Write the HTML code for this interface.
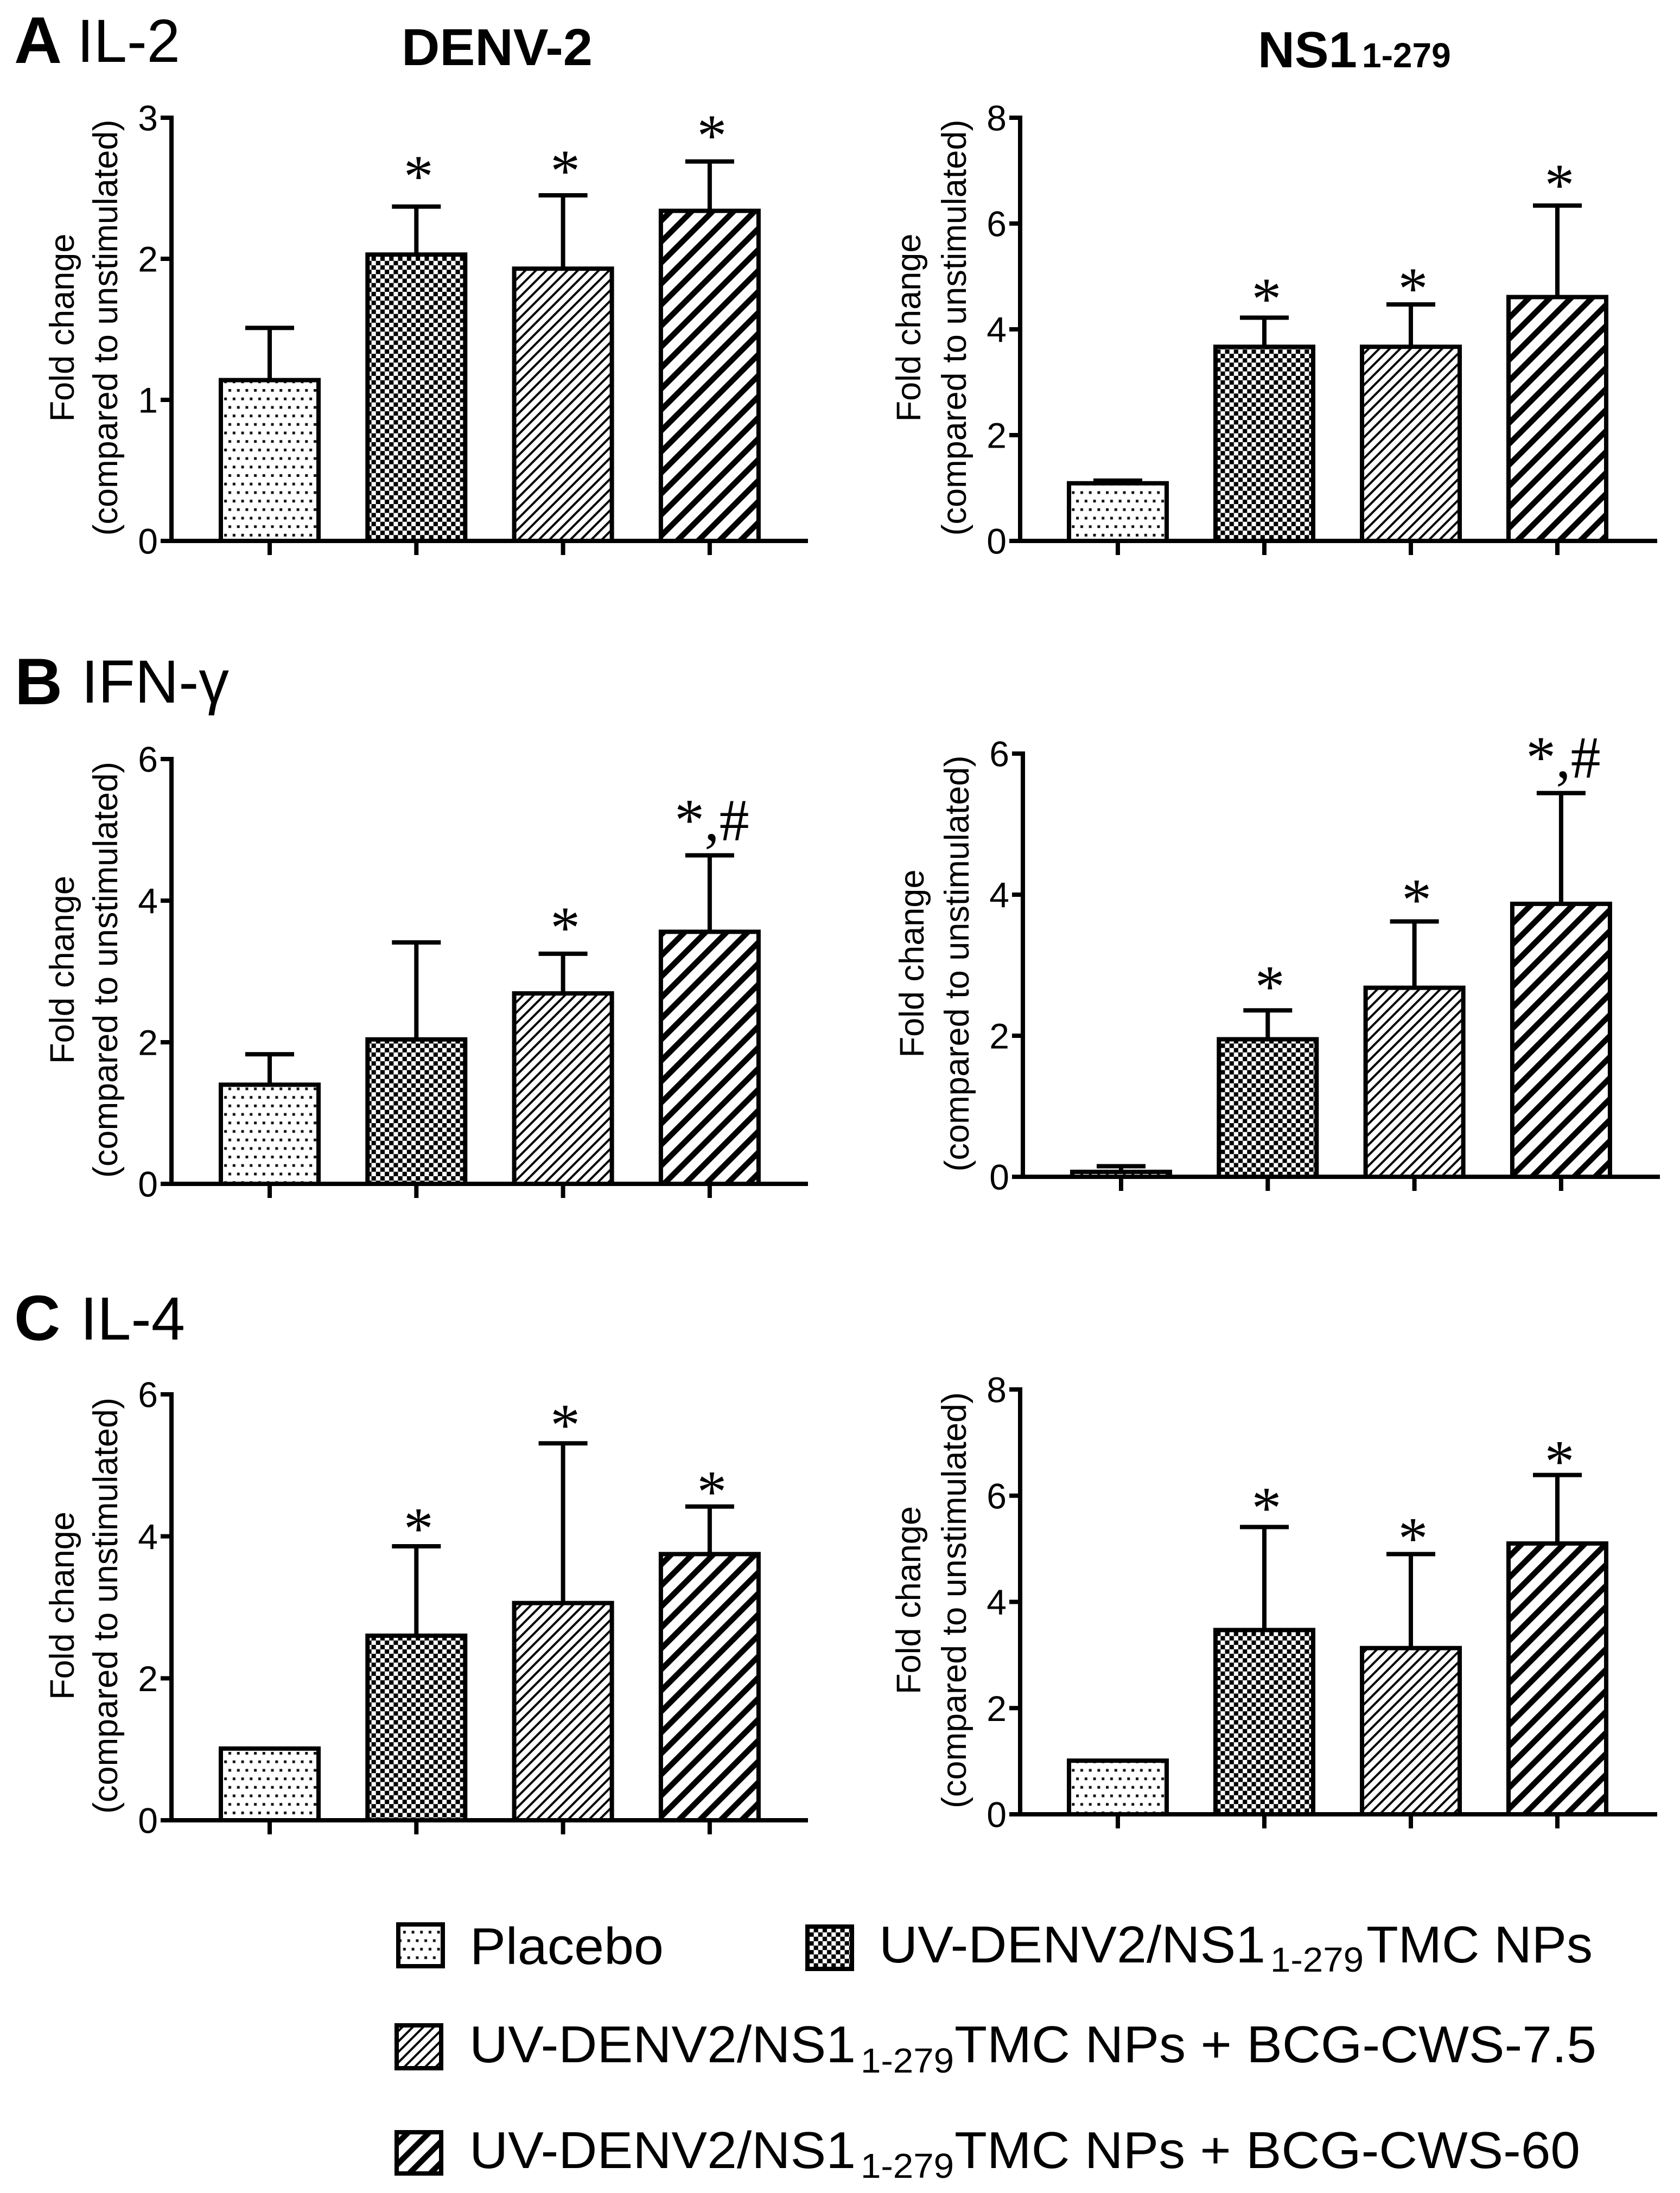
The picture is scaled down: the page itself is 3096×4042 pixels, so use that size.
<!DOCTYPE html>
<html lang="en">
<head>
<meta charset="utf-8">
<title>Fold change in cytokine expression</title>
<style>
html,body{margin:0;padding:0;background:#fff;}
svg{display:block;}
text{font-family:"Liberation Sans",Arial,sans-serif;fill:#000;}
.serif{font-family:"Liberation Serif","Times New Roman",serif;}
</style>
</head>
<body>
<svg id="figure" xmlns="http://www.w3.org/2000/svg" width="3096" height="4042" viewBox="0 0 3096 4042">
  <defs>
    <pattern id="fill-dots" patternUnits="userSpaceOnUse" x="416" y="712" width="15.7" height="31.4">
      <rect width="15.7" height="31.4" fill="#fff"/>
      <rect x="5" y="5" width="5" height="5" fill="#111"/>
      <rect x="12.85" y="20.7" width="5" height="5" fill="#111"/>
      <rect x="-2.85" y="20.7" width="5" height="5" fill="#111"/>
    </pattern>
    <pattern id="fill-checker" patternUnits="userSpaceOnUse" x="0" y="0" width="16.3" height="16.3">
      <rect width="16.3" height="16.3" fill="#fff"/>
      <rect x="0" y="0" width="8.15" height="8.15" fill="#000"/>
      <rect x="8.15" y="8.15" width="8.15" height="8.15" fill="#000"/>
    </pattern>
    <pattern id="fill-hatch-thin" patternUnits="userSpaceOnUse" x="0" y="0" width="19.3" height="19.3">
      <rect width="19.3" height="19.3" fill="#fff"/>
      <path d="M-5,5 L5,-5 M-5,24.3 L24.3,-5 M14.3,24.3 L24.3,14.3" stroke="#000" stroke-width="4" fill="none"/>
    </pattern>
    <pattern id="fill-hatch-wide" patternUnits="userSpaceOnUse" x="0" y="0" width="38.7" height="38.7">
      <rect width="38.7" height="38.7" fill="#fff"/>
      <path d="M-10,10 L10,-10 M-10,48.7 L48.7,-10 M28.7,48.7 L48.7,28.7" stroke="#000" stroke-width="10.5" fill="none"/>
    </pattern>
  </defs>
  <rect width="3096" height="4042" fill="#fff"/>

  <g>
    <text x="26" y="116" font-size="122" font-weight="700">A</text>
    <text x="142" y="114" font-size="112" textLength="190" lengthAdjust="spacingAndGlyphs">IL-2</text>
    <text x="740" y="120" font-size="96" font-weight="700" textLength="352" lengthAdjust="spacingAndGlyphs">DENV-2</text>
    <text x="2318" y="124" font-size="94" font-weight="700">NS1</text>
    <text x="2510" y="124" font-size="64" font-weight="700">1-279</text>
    <text x="27" y="1298" font-size="122" font-weight="700">B</text>
    <text x="150" y="1295" font-size="112" textLength="272" lengthAdjust="spacingAndGlyphs">IFN-γ</text>
    <text x="26" y="2470" font-size="118" font-weight="700">C</text>
    <text x="148" y="2469" font-size="112" textLength="193" lengthAdjust="spacingAndGlyphs">IL-4</text>
  </g>

  <g id="charts"></g>

  <g>
    <g>
      <rect x="734" y="3547" width="82" height="77" fill="url(#fill-dots)" stroke="#000" stroke-width="8"/>
      <text x="866" y="3620" font-size="96" textLength="357" lengthAdjust="spacingAndGlyphs">Placebo</text>
    </g>
    <g>
      <rect x="1488" y="3551" width="82" height="78" fill="url(#fill-checker)" stroke="#000" stroke-width="8"/>
      <text x="1620" y="3617" font-size="96" textLength="712" lengthAdjust="spacingAndGlyphs">UV-DENV2/NS1</text>
      <text x="2341" y="3634" font-size="64" textLength="172" lengthAdjust="spacingAndGlyphs">1-279</text>
      <text x="2518" y="3617" font-size="96" textLength="417" lengthAdjust="spacingAndGlyphs">TMC NPs</text>
    </g>
    <g>
      <rect x="731" y="3733" width="82" height="79" fill="url(#fill-hatch-thin)" stroke="#000" stroke-width="8"/>
      <text x="865" y="3801" font-size="96" textLength="712" lengthAdjust="spacingAndGlyphs">UV-DENV2/NS1</text>
      <text x="1586" y="3820" font-size="64" textLength="172" lengthAdjust="spacingAndGlyphs">1-279</text>
      <text x="1759" y="3801" font-size="96" textLength="1183" lengthAdjust="spacingAndGlyphs">TMC NPs + BCG-CWS-7.5</text>
    </g>
    <g>
      <rect x="731" y="3930" width="82" height="76" fill="url(#fill-hatch-wide)" stroke="#000" stroke-width="8"/>
      <text x="865" y="3996" font-size="96" textLength="712" lengthAdjust="spacingAndGlyphs">UV-DENV2/NS1</text>
      <text x="1586" y="4014" font-size="64" textLength="172" lengthAdjust="spacingAndGlyphs">1-279</text>
      <text x="1759" y="3996" font-size="96" textLength="1153" lengthAdjust="spacingAndGlyphs">TMC NPs + BCG-CWS-60</text>
    </g>
  </g>
</svg>

<script>
// Categories (shared by every panel)
const categories = ['placebo', 'tmc-nps', 'bcg-cws-7-5', 'bcg-cws-60'];

// IL-2, DENV-2
const il2DenvMeans = [1.14, 2.03, 1.93, 2.34];
const il2DenvErrorTops = [1.51, 2.37, 2.45, 2.69];
const il2DenvMarks = ['', '*', '*', '*'];
const il2DenvMarkLevels = [0, 2.63, 2.67, 2.92];
const il2DenvTicks = [0, 1, 2, 3];

// IL-2, NS1
const il2NsMeans = [1.09, 3.67, 3.67, 4.61];
const il2NsErrorTops = [1.14, 4.22, 4.47, 6.34];
const il2NsMarks = ['', '*', '*', '*'];
const il2NsMarkLevels = [0, 4.70, 4.89, 6.85];
const il2NsTicks = [0, 2, 4, 6, 8];

// IFN-gamma, DENV-2
const ifnDenvMeans = [1.40, 2.04, 2.69, 3.56];
const ifnDenvErrorTops = [1.83, 3.41, 3.25, 4.64];
const ifnDenvMarks = ['', '', '*', '*,#'];
const ifnDenvMarkLevels = [0, 0, 3.71, 5.23];
const ifnDenvTicks = [0, 2, 4, 6];

// IFN-gamma, NS1
const ifnNsMeans = [0.07, 1.95, 2.68, 3.87];
const ifnNsErrorTops = [0.15, 2.36, 3.62, 5.44];
const ifnNsMarks = ['', '*', '*', '*,#'];
const ifnNsMarkLevels = [0, 2.79, 4.02, 6.04];
const ifnNsTicks = [0, 2, 4, 6];

// IL-4, DENV-2
const il4DenvMeans = [1.01, 2.60, 3.06, 3.75];
const il4DenvErrorTops = [1.01, 3.86, 5.31, 4.42];
const il4DenvMarks = ['', '*', '*', '*'];
const il4DenvMarkLevels = [0, 4.20, 5.66, 4.72];
const il4DenvTicks = [0, 2, 4, 6];

// IL-4, NS1
const il4NsMeans = [1.01, 3.47, 3.13, 5.10];
const il4NsErrorTops = [1.01, 5.41, 4.90, 6.39];
const il4NsMarks = ['', '*', '*', '*'];
const il4NsMarkLevels = [0, 5.89, 5.32, 6.77];
const il4NsTicks = [0, 2, 4, 6, 8];

const SVG_NS = 'http://www.w3.org/2000/svg';
const barFills = ['url(#fill-dots)', 'url(#fill-checker)', 'url(#fill-hatch-thin)', 'url(#fill-hatch-wide)'];

function shape(parent, tag, attrs) {
  const el = document.createElementNS(SVG_NS, tag);
  Object.keys(attrs).forEach(function (k) { el.setAttribute(k, attrs[k]); });
  parent.appendChild(el);
  return el;
}

function drawPanel(name, frame, means, errorTops, marks, markLevels, ticks) {
  const root = document.getElementById('charts');
  const g = shape(root, 'g', {});
  
  

  const maxTick = ticks[ticks.length - 1];
  const yOf = function (v) { return frame.base - (v / maxTick) * (frame.base - frame.top); };
  const xOf = function (i) { return frame.firstX + i * frame.stepX; };

  // Error bars (behind the bars)
  means.forEach(function (mean, i) {
    if (errorTops[i] <= mean) { return; }
    const stem = shape(g, 'line', { x1: xOf(i), x2: xOf(i), y1: yOf(errorTops[i]), y2: yOf(mean), stroke: '#000', 'stroke-width': 8 });
    
    
    const cap = shape(g, 'line', { x1: xOf(i) - 45, x2: xOf(i) + 45, y1: yOf(errorTops[i]), y2: yOf(errorTops[i]), stroke: '#000', 'stroke-width': 8 });
    
    
  });

  // Bars
  means.forEach(function (mean, i) {
    const bar = shape(g, 'rect', { x: xOf(i) - 90, y: yOf(mean), width: 180, height: frame.base - yOf(mean), fill: barFills[i], stroke: '#000', 'stroke-width': 8 });
    
    
  });

  // Significance marks
  marks.forEach(function (mark, i) {
    if (!mark) { return; }
    const label = shape(g, 'text', { x: xOf(i) + 4, y: yOf(markLevels[i]) + 49, 'font-size': 110, 'text-anchor': 'middle', class: 'serif' });
    label.textContent = mark;
    
    
  });

  // Axes
  const yAxis = shape(g, 'line', { x1: frame.axisX, x2: frame.axisX, y1: frame.top - 4, y2: frame.base + 4, stroke: '#000', 'stroke-width': 8 });
  
  
  const xAxis = shape(g, 'line', { x1: frame.axisX - 20, x2: frame.endX, y1: frame.base, y2: frame.base, stroke: '#000', 'stroke-width': 8 });
  
  

  ticks.forEach(function (t) {
    const tick = shape(g, 'line', { x1: frame.axisX - 20, x2: frame.axisX, y1: yOf(t), y2: yOf(t), stroke: '#000', 'stroke-width': 8 });
    
    
    const tickLabel = shape(g, 'text', { x: frame.axisX - 25, y: yOf(t) + 23.6, 'font-size': 66, 'text-anchor': 'end' });
    tickLabel.textContent = String(t);
    
    
  });

  categories.forEach(function (c, i) {
    const tick = shape(g, 'line', { x1: xOf(i), x2: xOf(i), y1: frame.base, y2: frame.base + 26, stroke: '#000', 'stroke-width': 8 });
    
    
  });

  // Y-axis title, two rotated lines
  const midY = (frame.top + frame.base) / 2 - 3;
  const titleTop = shape(g, 'text', { transform: 'translate(' + (frame.axisX - frame.titleGap) + ' ' + midY + ') rotate(-90)', 'font-size': 63, 'text-anchor': 'middle' });
  titleTop.textContent = 'Fold change';
  
  
  const titleBottom = shape(g, 'text', { transform: 'translate(' + (frame.axisX - 100) + ' ' + midY + ') rotate(-90)', 'font-size': 63, 'text-anchor': 'middle' });
  titleBottom.textContent = '(compared to unstimulated)';
  
  
}

drawPanel('il-2-denv-2', { axisX: 316, endX: 1489, top: 217, base: 997, firstX: 497, stepX: 270.3, titleGap: 180 },
  il2DenvMeans, il2DenvErrorTops, il2DenvMarks, il2DenvMarkLevels, il2DenvTicks);
drawPanel('il-2-ns1', { axisX: 1880, endX: 3054, top: 217, base: 997, firstX: 2060, stepX: 270, titleGap: 184 },
  il2NsMeans, il2NsErrorTops, il2NsMarks, il2NsMarkLevels, il2NsTicks);
drawPanel('ifn-gamma-denv-2', { axisX: 316, endX: 1489, top: 1399, base: 2182, firstX: 497, stepX: 270.3, titleGap: 180 },
  ifnDenvMeans, ifnDenvErrorTops, ifnDenvMarks, ifnDenvMarkLevels, ifnDenvTicks);
drawPanel('ifn-gamma-ns1', { axisX: 1885, endX: 3059, top: 1389, base: 2169, firstX: 2066, stepX: 270.3, titleGap: 183 },
  ifnNsMeans, ifnNsErrorTops, ifnNsMarks, ifnNsMarkLevels, ifnNsTicks);
drawPanel('il-4-denv-2', { axisX: 316, endX: 1489, top: 2570, base: 3355, firstX: 497, stepX: 270.3, titleGap: 180 },
  il4DenvMeans, il4DenvErrorTops, il4DenvMarks, il4DenvMarkLevels, il4DenvTicks);
drawPanel('il-4-ns1', { axisX: 1880, endX: 3054, top: 2561, base: 3344, firstX: 2060, stepX: 270, titleGap: 184 },
  il4NsMeans, il4NsErrorTops, il4NsMarks, il4NsMarkLevels, il4NsTicks);
</script>
</body>
</html>
